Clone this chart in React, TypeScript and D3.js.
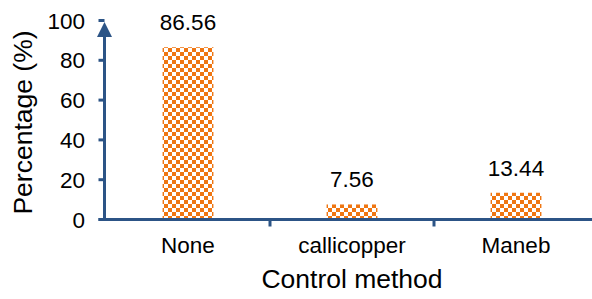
import React from 'react';
import * as d3 from 'd3';

const categories = ['None', 'callicopper', 'Maneb'];
const values = [86.56, 7.56, 13.44];
const yTicks = [0, 20, 40, 60, 80, 100];

const axisColor = '#2C5486';
const barColor = '#EF7612';
const font = 'Arial, "Liberation Sans", sans-serif';

export default function App() {
  const width = 592;
  const height = 299;

  const y = d3.scaleLinear().domain([0, 100]).range([219.5, 20.5]);
  const x = d3.scaleBand().domain(categories).range([106, 598]);
  const barW = x.bandwidth() * 0.31;
  const axisX = 104.5;

  return (
    <svg
      width={width}
      height={height}
      style={{ position: 'absolute', left: 0, top: 0, background: '#fff' }}
      fontFamily={font}
    >
      <defs>
        <pattern id="checker" patternUnits="userSpaceOnUse" width={8} height={8}>
          <rect width={8} height={8} fill="#fff" />
          <rect x={0} y={0} width={4} height={4} fill={barColor} />
          <rect x={4} y={4} width={4} height={4} fill={barColor} />
        </pattern>
      </defs>

      {/* bars */}
      {values.map((v, i) => {
        const cx = (x(categories[i]) as number) + x.bandwidth() / 2;
        return (
          <g key={categories[i]}>
            <rect
              x={cx - barW / 2}
              y={y(v)}
              width={barW}
              height={y(0) - y(v)}
              fill="url(#checker)"
            />
            <text x={cx} y={y(v) - 17} textAnchor="middle" fontSize={22.5} fill="#000">
              {v.toFixed(2)}
            </text>
            <text x={cx} y={253} textAnchor="middle" fontSize={22.5} fill="#000">
              {categories[i]}
            </text>
          </g>
        );
      })}

      {/* y axis */}
      <line x1={axisX} x2={axisX} y1={y(0) + 1.5} y2={34} stroke={axisColor} strokeWidth={3} />
      <path d={`M${axisX},22 L${axisX + 7.5},37 L${axisX - 7.5},37 Z`} fill={axisColor} />
      {yTicks.map(t => (
        <g key={t}>
          <line x1={axisX - 6} x2={axisX} y1={y(t)} y2={y(t)} stroke={axisColor} strokeWidth={3} />
          <text x={85} y={y(t) + 8} textAnchor="end" fontSize={22.5} fill="#000">
            {t}
          </text>
        </g>
      ))}

      {/* x axis */}
      <line x1={axisX - 6} x2={width} y1={y(0)} y2={y(0)} stroke={axisColor} strokeWidth={3} />
      {categories.slice(1).map(c => (
        <line
          key={c}
          x1={x(c) as number}
          x2={x(c) as number}
          y1={y(0)}
          y2={y(0) + 7}
          stroke={axisColor}
          strokeWidth={3}
        />
      ))}

      {/* axis titles */}
      <text x={352} y={288} textAnchor="middle" fontSize={26.5} fill="#000">
        Control method
      </text>
      <text
        transform={`translate(32,122.5) rotate(-90)`}
        textAnchor="middle"
        fontSize={26.5}
        fill="#000"
      >
        Percentage (%)
      </text>
    </svg>
  );
}
